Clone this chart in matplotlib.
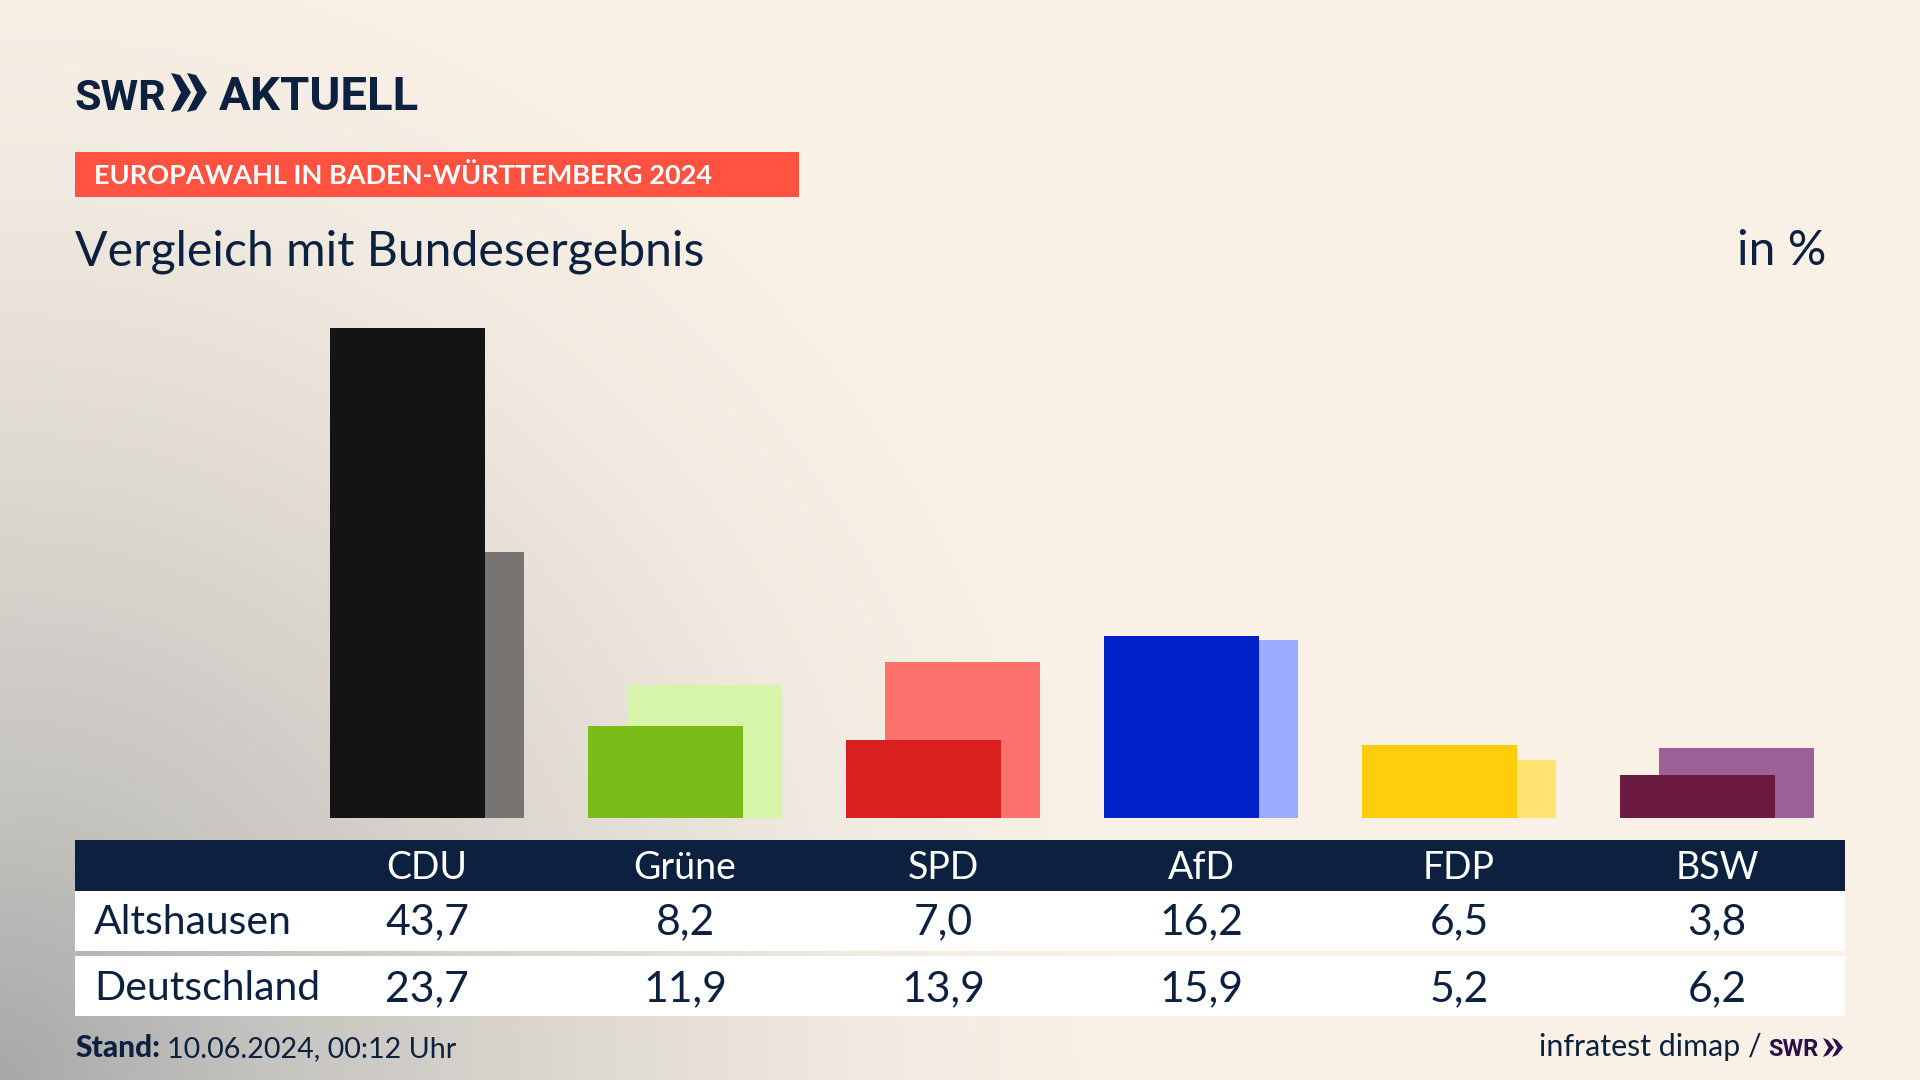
import numpy as np
import matplotlib.pyplot as plt
from matplotlib.patches import Polygon, Rectangle
from matplotlib.transforms import blended_transform_factory

parties = ["CDU", "Grüne", "SPD", "AfD", "FDP", "BSW"]
altshausen = [43.7, 8.2, 7.0, 16.2, 6.5, 3.8]
deutschland = [23.7, 11.9, 13.9, 15.9, 5.2, 6.2]
main_colors = ["#141414", "#7abd18", "#d9201f", "#0020c8", "#ffcd0a", "#6b1a40"]
back_colors = ["#777471", "#d7f5a8", "#ff716c", "#9dabff", "#ffe26f", "#9c5f98"]

NAVY = "#0c2040"
FONT = "Lato"
LOGO_FONT = "Roboto"


def de(value):
    return f"{value:.1f}".replace(".", ",")


def background():
    """Beige with a grey glow from the bottom left corner"""
    y, x = np.mgrid[0:1080, 0:1920]
    dist = np.sqrt((x / 1150.0) ** 2 + ((1080 - y) / 1200.0) ** 2)
    stops = [0.0, 0.25, 0.5, 0.75, 0.97]
    base = [np.array(c) / 255.0 for c in
            [(168, 168, 168), (199, 197, 193), (221, 216, 209), (241, 234, 224), (250, 241, 230)]]
    img = np.dstack([
        np.interp(dist, stops, [c[i] for c in base]) for i in range(3)
    ])
    return img


def chevrons(axis, x, top, bottom, width, gap, color):
    mid = (top + bottom) / 2
    for i in range(2):
        x0 = x + i * gap
        axis.add_patch(Polygon(
            [(x0, top), (x0 + width * 0.45, top + 2), (x0 + width, mid),
             (x0 + width * 0.45, bottom - 2), (x0, bottom), (x0 + width * 0.5, mid)],
            closed=True, facecolor=color, edgecolor="none",
        ))


fig = plt.figure(figsize=(19.2, 10.8), dpi=100)

# full figure layer in pixel coordinates, for the background and the frame
bg = fig.add_axes([0, 0, 1, 1])
bg.imshow(background(), extent=(0, 1920, 1080, 0), aspect="auto")
bg.set_xlim(0, 1920)
bg.set_ylim(1080, 0)
bg.axis("off")

# bars, one group every 258 px with the first centred on 427 px
ax = fig.add_axes([75 / 1920, (1080 - 818) / 1080, 1770 / 1920, 568 / 1080])
ax.patch.set_alpha(0)
ax.set_xlim((75 - 427) / 258, (1845 - 427) / 258)
ax.set_ylim(0, 568 / 11.21)
ax.axis("off")

pos = np.arange(len(parties))
ax.bar(pos + 0.0756, deutschland, width=0.604, color=back_colors)
ax.bar(pos - 0.0756, altshausen, width=0.604, color=main_colors)

# logo
bg.text(75, 110, "SWR", family=LOGO_FONT, fontweight="bold", fontsize=31, color=NAVY, va="baseline")
chevrons(bg, 171, 73, 112, 20, 16, NAVY)
bg.text(219, 110, "AKTUELL", family=LOGO_FONT, fontweight="bold", fontsize=34, color=NAVY, va="baseline")

# band and titles
bg.add_patch(Rectangle((75, 152), 724, 45, facecolor="#ff5240", edgecolor="none"))
bg.text(94, 184, "EUROPAWAHL IN BADEN-WÜRTTEMBERG 2024", family=FONT, fontweight="bold",
        fontsize=19.5, color="white", va="baseline")
bg.text(75, 265, "Vergleich mit Bundesergebnis", family=FONT, fontsize=34.7, color=NAVY, va="baseline")
bg.text(1826, 265, "in %", family=FONT, fontsize=34.7, color=NAVY, va="baseline", ha="right")

# table
bg.add_patch(Rectangle((75, 840), 1770, 51, facecolor=NAVY, edgecolor="none"))
bg.add_patch(Rectangle((75, 891), 1770, 60, facecolor="white", edgecolor="none"))
bg.add_patch(Rectangle((75, 956), 1770, 60, facecolor="white", edgecolor="none"))

bg.text(94, 934, "Altshausen", family=FONT, fontsize=29.5, color=NAVY, va="baseline")
bg.text(94, 1000, "Deutschland", family=FONT, fontsize=29.5, color=NAVY, va="baseline")

table_trans = blended_transform_factory(ax.transData, bg.transData)
for i, party in enumerate(parties):
    ax.text(i, 879, party, transform=table_trans, family=FONT, fontsize=27, color="white",
            ha="center", va="baseline", clip_on=False)
    ax.text(i, 934, de(altshausen[i]), transform=table_trans, family=FONT, fontsize=30.8, color=NAVY,
            ha="center", va="baseline", clip_on=False)
    ax.text(i, 1001, de(deutschland[i]), transform=table_trans, family=FONT, fontsize=30.8, color=NAVY,
            ha="center", va="baseline", clip_on=False)

# footer
bg.text(75, 1057, "Stand:", family=FONT, fontweight="black", fontsize=21.5, color=NAVY, va="baseline")
bg.text(167, 1057, "10.06.2024, 00:12 Uhr", family=FONT, fontsize=20.6, color=NAVY, va="baseline")
bg.text(1539, 1056, "infratest dimap /", family=FONT, fontsize=21.9, color=NAVY, va="baseline")
bg.text(1768, 1056, "SWR", family=LOGO_FONT, fontweight="bold", fontsize=17, color="#2a0f4a", va="baseline")
chevrons(bg, 1823, 1038, 1057, 11, 9, "#2a0f4a")

fig.savefig("out.png", dpi=100)
